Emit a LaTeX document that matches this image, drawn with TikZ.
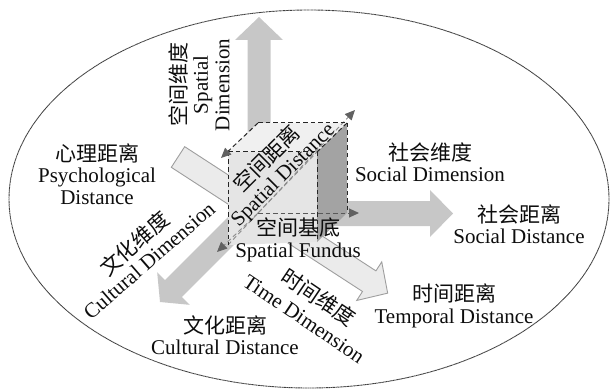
\documentclass[tikz,border=0pt]{standalone}
\usepackage{fontspec}
\setmainfont{Liberation Serif}
\newfontfamily\cjk{Noto Sans CJK SC}
\usetikzlibrary{arrows.meta}
\newcommand\blkarrow[7]{%
  \begin{scope}[shift={#2},rotate=#3]
    \path[#1] (0,-#5) -- ({#4-#7},-#5) -- ({#4-#7},-#6) -- (#4,0) -- ({#4-#7},#6) -- ({#4-#7},#5) -- (0,#5) -- cycle;
  \end{scope}}
\begin{document}
\begin{tikzpicture}[x=1pt,y=-1pt,
  lbl/.style={align=center, inner sep=0pt, text=black!95, font=\fontsize{21}{21.5}\selectfont},
  bigarrow/.style={fill=black!22},
  timearrow/.style={fill=black!8, draw=black!38, line width=0.9pt, line join=miter},
  cubeedge/.style={dash pattern=on 4.5pt off 3pt, line width=1pt, draw=black!85},
  hiddenedge/.style={dash pattern=on 4.5pt off 3pt, line width=0.9pt, draw=black!45},
  darkedge/.style={dash pattern=on 4.5pt off 3pt, line width=1pt, draw=black!65},
  tipped/.style={-{Triangle[length=10pt,width=9pt,black!62]}}
]
\useasboundingbox (0,0) rectangle (612,390);

% outer ellipse
\draw[black!75, line width=0.9pt, dash pattern=on 1pt off 0.4pt] (309,199) ellipse [x radius=300, y radius=189];

% time dimension arrow (light, outlined)
\blkarrow{timearrow}{(178,157)}{-33}{250}{12.3}{23}{22}
% gray dimension arrows
\blkarrow{bigarrow}{(259,210)}{90}{193}{11.5}{24}{23}
\blkarrow{bigarrow}{(258,213.5)}{0}{195}{12.5}{23.5}{23}
\blkarrow{bigarrow}{(258,204)}{225}{138.6}{12}{23}{19}

% cube coordinates
\coordinate (ftl) at (228,152);
\coordinate (ftr) at (317,152);
\coordinate (fbr) at (317,242);
\coordinate (fbl) at (228,245);
\coordinate (btl) at (258,123);
\coordinate (btr) at (347,123);
\coordinate (bbr) at (347,213);
\coordinate (bbl) at (258,213);
\coordinate (eR) at (359,213);
\coordinate (eDL) at (217,252);
\coordinate (eD) at (355,110);
\coordinate (eTL) at (221,158);

% faces
\fill[black!6] (ftl) -- (btl) -- (btr) -- (ftr) -- cycle;
\fill[black!10] (ftl) -- (ftr) -- (fbr) -- (fbl) -- cycle;
\fill[black!36] (ftr) -- (btr) -- (bbr) -- (fbr) -- cycle;

% hidden lines
\draw[hiddenedge, tipped] (fbl) -- (eD);
\draw[hiddenedge] (bbl) -- (ftr);
\draw[hiddenedge, tipped] (bbl) -- (eDL);
\draw[darkedge, tipped] (bbl) -- (eR);

% visible edges
\draw[cubeedge] (ftl) -- (ftr);
\draw[cubeedge] (ftl) -- (fbl);
\draw[cubeedge] (ftr) -- (fbr);
\draw[cubeedge] (btl) -- (btr);
\draw[cubeedge] (btr) -- (bbr);
\draw[cubeedge] (btr) -- (ftr);
\draw[cubeedge, tipped] (btl) -- (eTL);

% labels
\node[lbl, rotate=90] (spdim) at (199,85) {{\cjk 空间维度}\\Spatial\\Dimension};
\node[lbl] (psy) at (97,174) {{\cjk 心理距离}\\Psychological\\Distance};
\node[lbl] (socdim) at (430,162) {{\cjk 社会维度}\\Social Dimension};
\node[lbl] (socdist) at (519,224) {{\cjk 社会距离}\\Social Distance};
\node[lbl] (temp) at (454,306) {{\cjk 时间距离}\\Temporal Distance};
\node[lbl] (culdist) at (225,335) {{\cjk 文化距离}\\Cultural Distance};
\node[lbl] (fund) at (298,240) {{\cjk 空间基底}\\Spatial Fundus};
\node[lbl, rotate=45] (spdist) at (275,167) {{\cjk 空间距离}\\Spatial Distance};
\node[lbl, rotate=41] (culdim) at (141,251) {{\cjk 文化维度}\\Cultural Dimension};
\node[lbl, rotate=-34] (timedim) at (312,307) {{\cjk 时间维度}\\[3.5pt]Time Dimension};
\end{tikzpicture}
\end{document}
